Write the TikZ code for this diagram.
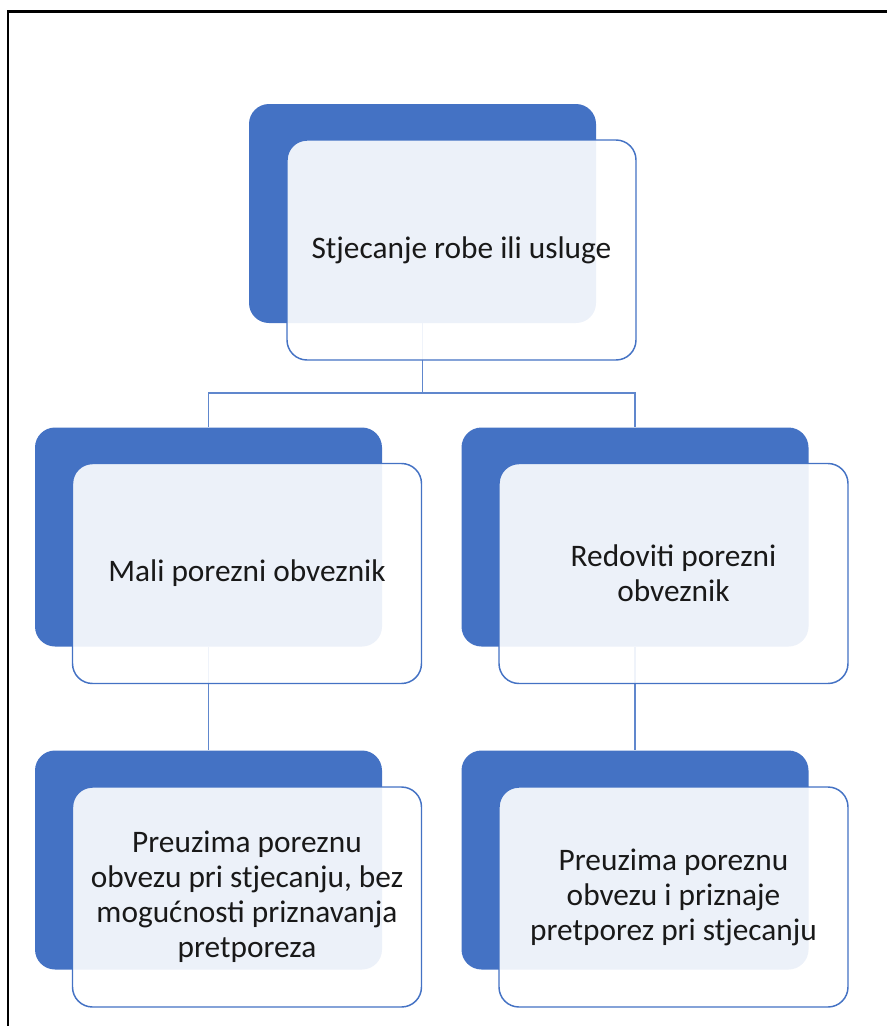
\documentclass[tikz,border=0pt]{standalone}
\usepackage{fontspec}
\setmainfont{Carlito}
\definecolor{accblue}{HTML}{4472C4}
\tikzset{
  backbox/.style={fill=accblue, rounded corners=15pt, minimum width=260.25pt, minimum height=164.25pt, inner sep=0pt},
  frontbox/.style={draw=accblue, line width=1.1pt, fill=white, fill opacity=0.9, text opacity=1, rounded corners=15pt, minimum width=261.75pt, minimum height=165pt, align=center, text=black!90, font=\fontsize{23.5}{26.25}\selectfont},
  link/.style={draw=accblue!85, line width=1.1pt}
}
\begin{document}
\begin{tikzpicture}[x=0.75pt,y=-0.75pt]
\useasboundingbox (0,0) rectangle (887,1026);
\clip (0,0) rectangle (887,1026);
\draw[line width=1.6pt] (8,11.5) rectangle (900,1040);

\node[backbox] (acqb) at (422.5,213.5) {};
\node[backbox] (smallb) at (208.5,537) {};
\node[backbox] (regb) at (635,537) {};
\node[backbox] (smalltaxb) at (208.5,860) {};
\node[backbox] (regtaxb) at (635,860) {};

\coordinate (split) at (422.5,393);
\draw[link] (acqb.south) -- (split) -| (smallb.north);
\draw[link] (split) -| (regb.north);
\draw[link] (smallb.south) -- (smalltaxb.north);
\draw[link] (regb.south) -- (regtaxb.north);

\node[frontbox] (acq) at (461.5,250) {Stjecanje robe ili usluge};
\node[frontbox] (small) at (247,573.5) {Mali porezni obveznik};
\node[frontbox] (reg) at (673.5,573.5) {Redoviti porezni\\obveznik};
\node[frontbox] (smalltax) at (247,897) {Preuzima poreznu\\obvezu pri stjecanju, bez\\mogućnosti priznavanja\\pretporeza};
\node[frontbox] (regtax) at (673.5,897) {Preuzima poreznu\\obvezu i priznaje\\pretporez pri stjecanju};
\end{tikzpicture}
\end{document}
